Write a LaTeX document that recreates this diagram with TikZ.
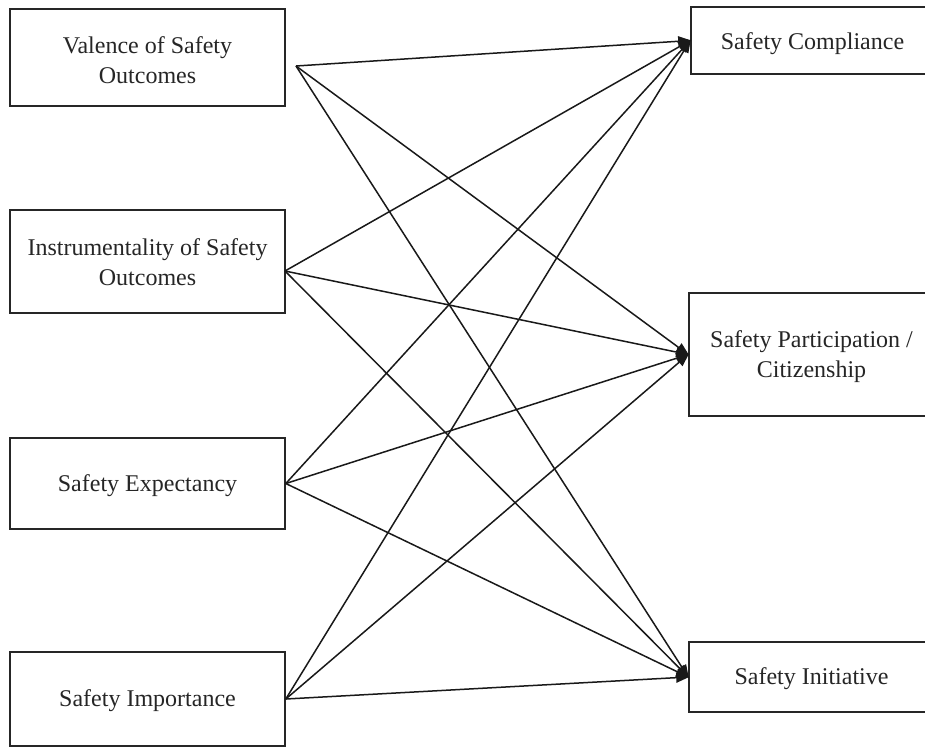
\documentclass[tikz,border=0pt]{standalone}
\usepackage{fontspec}
\setmainfont{Liberation Serif}
\usetikzlibrary{arrows.meta}
\begin{document}
\begin{tikzpicture}[x=1pt,y=-1pt,
  box/.style={draw=black!85, line width=1.6pt, rectangle, inner sep=0pt},
  boxtext/.style={inner sep=0pt, align=center,
    font=\fontsize{24}{30}\selectfont, text=black!85},
  link/.style={line width=1.5pt, draw=black!90,
    -{Triangle[length=13pt,width=10pt]}, shorten >=-1pt}]
  \useasboundingbox (0,0) rectangle (925,748);
  \fill[white] (0,0) rectangle (925,748);
  \clip (0,0) rectangle (925,748);

  % predictors
  \node[box, minimum width=275pt, minimum height=97pt] (val) at (147.5,57.5) {};
  \node[box, minimum width=275pt, minimum height=103pt] (ins) at (147.5,261.5) {};
  \node[box, minimum width=275pt, minimum height=91pt] (exp) at (147.5,483.5) {};
  \node[box, minimum width=275pt, minimum height=94pt] (imp) at (147.5,699) {};
  \node[boxtext] (valT) at ([yshift=-3pt]val.center) {Valence of Safety\\Outcomes};
  \node[boxtext] (insT) at ([yshift=-1pt]ins.center) {Instrumentality of Safety\\Outcomes};
  \node[boxtext] (expT) at ([yshift=-2pt]exp.center) {Safety Expectancy};
  \node[boxtext] (impT) at ([yshift=-2pt]imp.center) {Safety Importance};

  % outcomes
  \node[box, minimum width=243pt, minimum height=67pt] (com) at (812.5,40.5) {};
  \node[box, minimum width=245pt, minimum height=123pt] (par) at (811.5,354.5) {};
  \node[box, minimum width=245pt, minimum height=70pt] (ini) at (811.5,677) {};
  \node[boxtext] (comT) at ([yshift=-3pt]com.center) {Safety Compliance};
  \node[boxtext] (parT) at ([yshift=-2pt]par.center) {Safety Participation /\\Citizenship};
  \node[boxtext] (iniT) at ([yshift=-2pt]ini.center) {Safety Initiative};

  % connector start points
  \coordinate (valS) at (296,66);
  \coordinate (insS) at (285,271);

  \foreach \s in {valS,insS,exp.east,imp.east}{
    \foreach \t in {com,par,ini}{
      \draw[link] (\s) -- (\t.west);
    }
  }
\end{tikzpicture}
\end{document}
